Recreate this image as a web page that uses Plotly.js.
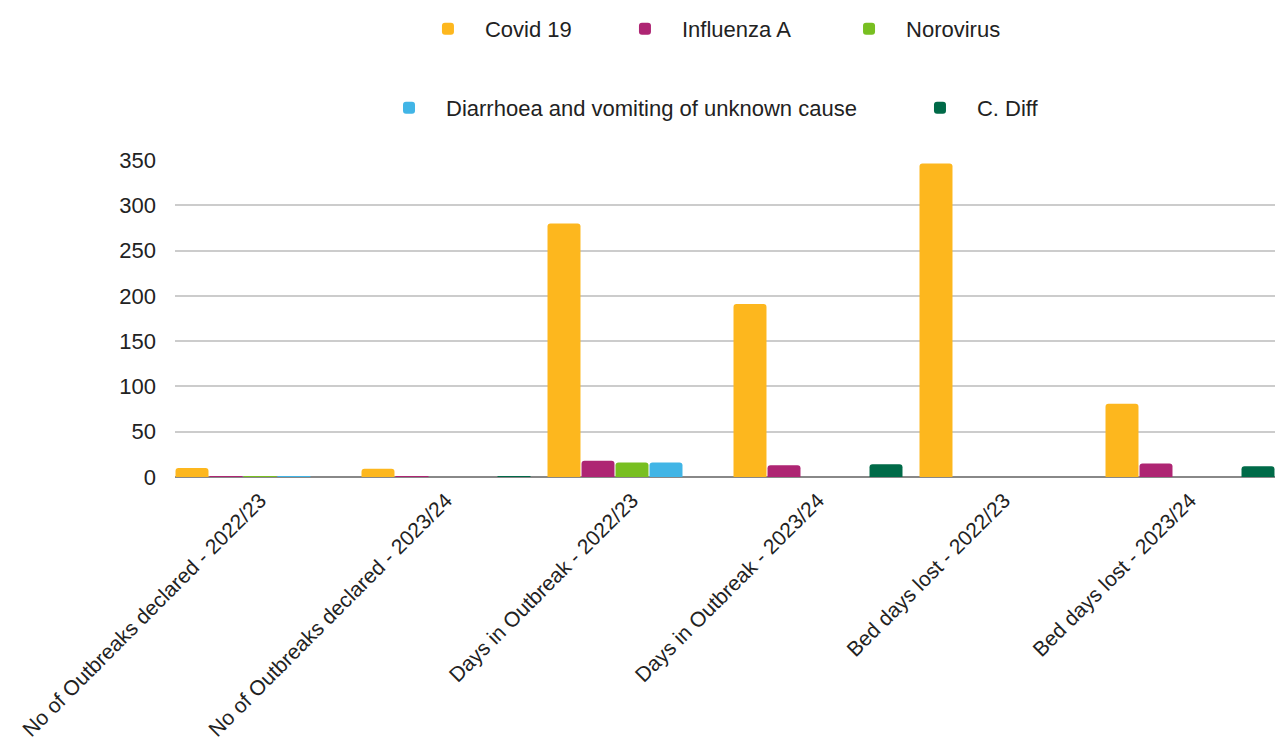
<!DOCTYPE html>
<html>
<head>
<meta charset="utf-8">
<script src="https://cdn.plot.ly/plotly-3.0.1.min.js"></script>
<style>html,body{margin:0;padding:0;background:#fff;}#chart{width:1279px;height:756px;}</style>
</head>
<body>
<div id="chart"></div>
<script>
const categories = [
  "No of Outbreaks declared - 2022/23",
  "No of Outbreaks declared - 2023/24",
  "Days in Outbreak - 2022/23",
  "Days in Outbreak - 2023/24",
  "Bed days lost - 2022/23",
  "Bed days lost - 2023/24"
];
const covid19     = [10, 9, 280, 191, 346, 81];
const influenzaA  = [1, 1, 18, 13, 0, 15];
const norovirus   = [1, 0, 16, 0, 0, 0];
const diarrhoea   = [1, 0, 16, 0, 0, 0];
const cDiff       = [0, 1, 0, 14, 0, 12];

const seriesNames = ["Covid 19", "Influenza A", "Norovirus", "Diarrhoea and vomiting of unknown cause", "C. Diff"];
const seriesColors = ["#fdb71e", "#ae2573", "#78bf21", "#41b5e6", "#006a48"];
const seriesValues = [covid19, influenzaA, norovirus, diarrhoea, cDiff];
const legendIds = ["legend", "legend2", "legend3", "legend4", "legend5"];

const traces = seriesNames.map((name, i) => ({
  type: "bar",
  name: name,
  x: categories,
  y: seriesValues[i],
  marker: {color: seriesColors[i], cornerradius: 3},
  legend: legendIds[i],
  hoverinfo: "x+y+name"
}));

const fam = "Liberation Sans, Arial, sans-serif";
const txt = "#222";

function legendAt(x, y) {
  return {
    orientation: "h", x: x, xanchor: "left", y: y, yanchor: "middle",
    font: {family: fam, size: 22, color: txt},
    itemwidth: 64, bgcolor: "rgba(0,0,0,0)", borderwidth: 0
  };
}

const layout = {
  width: 1279,
  height: 756,
  margin: {l: 175, r: 4, t: 160, b: 279},
  paper_bgcolor: "#fff",
  plot_bgcolor: "#fff",
  font: {family: fam, size: 22, color: txt},
  barmode: "group",
  bargap: 0.086,
  bargroupgap: 0.03,
  showlegend: true,
  legend:  legendAt(0.2145, 1.4132),
  legend2: legendAt(0.3936, 1.4132),
  legend3: legendAt(0.5973, 1.4132),
  legend4: legendAt(0.1791, 1.164),
  legend5: legendAt(0.6618, 1.164),
  xaxis: {
    type: "category",
    range: [-0.457, 5.457],
    tickangle: -45,
    showgrid: false,
    showline: false,
    zeroline: false,
    ticks: "",
    ticklabelstandoff: 6,
    tickfont: {family: fam, size: 21, color: txt},
    automargin: false
  },
  yaxis: {
    range: [0, 350],
    dtick: 50,
    showgrid: true,
    gridcolor: "#cccccc",
    gridwidth: 1.5,
    zeroline: true,
    zerolinecolor: "#888888",
    zerolinewidth: 1.5,
    ticks: "",
    ticklabelstandoff: 18,
    tickfont: {family: fam, size: 22, color: txt},
    automargin: false
  }
};

Plotly.newPlot("chart", traces, layout, {displayModeBar: false, responsive: false});
</script>
</body>
</html>
